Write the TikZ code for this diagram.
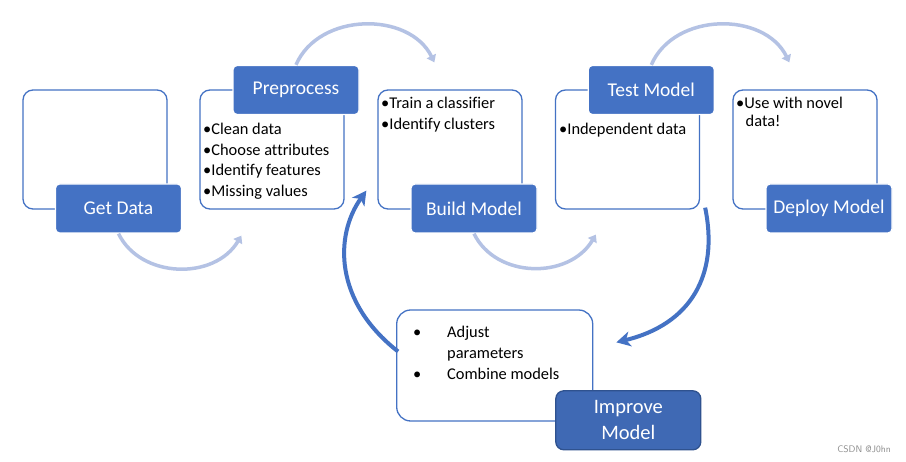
\documentclass[tikz,border=0pt]{standalone}
\usepackage{fontspec}
\setmainfont{Carlito}[Ligatures=NoCommon]
\usetikzlibrary{arrows.meta,calc}
\definecolor{sblue}{HTML}{4472C4}
\definecolor{dblue}{HTML}{2F528F}
\definecolor{lblue}{HTML}{B4C2E4}
\tikzset{
  wbox/.style={draw=sblue,line width=1.3pt,rounded corners=10pt,fill=white,inner sep=0pt},
  bbox/.style={draw=white,line width=1.3pt,rounded corners=4pt,fill=sblue,text=white,inner sep=0pt,
    font=\fontsize{19.5}{23}\selectfont,align=center},
  ibox/.style={draw=dblue,line width=1.3pt,rounded corners=8pt,fill=sblue!92!black,text=white,inner sep=0pt,
    font=\fontsize{20.5}{26}\selectfont,align=center},
  btxt/.style={anchor=base west,inner sep=0pt,font=\fontsize{16.4}{20}\selectfont},
  larc/.style={draw=lblue,line width=3.5pt,-{Triangle[length=7pt,width=10pt]}},
  darc/.style={draw=sblue,line width=4pt,-{Stealth[length=14pt,width=15pt,inset=4pt]}},
}
\begin{document}
\begin{tikzpicture}[x=1pt,y=-1pt]
\useasboundingbox[fill=white] (0,0) rectangle (906,462);
% white boxes
\node[wbox,minimum width=144pt,minimum height=119pt] (gdw) at (95,149.5) {};
\node[wbox,minimum width=144pt,minimum height=119pt] (ppw) at (272,149.5) {};
\node[wbox,minimum width=144pt,minimum height=119pt] (bmw) at (450,149.5) {};
\node[wbox,minimum width=144pt,minimum height=119pt] (tmw) at (627.5,149.5) {};
\node[wbox,minimum width=144pt,minimum height=119pt] (dmw) at (805,149.5) {};
\node[wbox,minimum width=196pt,minimum height=111pt,rounded corners=14pt] (imw) at (494.7,365.5) {};
% blue label boxes
\node[bbox,minimum width=126pt,minimum height=49pt] (gdb) at (118.5,208.5) {Get Data};
\node[bbox,minimum width=126pt,minimum height=49pt] (ppb) at (296,90) {Preprocess};
\node[bbox,minimum width=126pt,minimum height=49pt] (bmb) at (474,208.5) {Build Model};
\node[bbox,minimum width=126pt,minimum height=49pt] (tmb) at (651.3,90) {Test Model};
\node[bbox,minimum width=126pt,minimum height=49pt] (dmb) at (829,208.5) {Deploy Model};
\node[ibox,minimum width=145pt,minimum height=59pt] (imb) at (628.3,420.3) {Improve\\Model};
% bullet texts
\node[btxt] (p1) at (203,135) {•Clean data};
\node[btxt] (p2) at (203,155.5) {•Choose attributes};
\node[btxt] (p3) at (203,176) {•Identify features};
\node[btxt] (p4) at (203,196.5) {•Missing values};
\node[btxt] (b1) at (381,109) {•Train a classifier};
\node[btxt] (b2) at (381,130) {•Identify clusters};
\node[btxt] (t1) at (559,135) {•Independent data};
\node[btxt] (d1) at (736,109) {•Use with novel};
\node[btxt] (d2) at (745.5,127) {data!};
\node[btxt] (i0) at (413,338) {•};
\node[btxt] (i1) at (447,338) {Adjust};
\node[btxt] (i2) at (447,358.5) {parameters};
\node[btxt] (i3) at (413,380) {•};
\node[btxt] (i4) at (447,380) {Combine models};
% light arcs
\coordinate (e1) at ($(ppw.south west)+(42,26)$);
\coordinate (e2) at ($(bmw.north west)+(57,-27)$);
\coordinate (e3) at ($(tmw.south west)+(41,25)$);
\coordinate (e4) at ($(dmw.north west)+(57,-27)$);
\draw[larc] (gdb.south) .. controls +(22,45) and +(-27,45) .. (e1);
\draw[larc] (ppb.north) .. controls +(23,-53) and +(-25,-51) .. (e2);
\draw[larc] (bmb.south) .. controls +(22,45) and +(-27,45) .. (e3);
\draw[larc] (tmb.north) .. controls +(23,-53) and +(-25,-51) .. (e4);
% dark arcs
\coordinate (s5) at ($(tmw.south east)+(5,-2)$);
\coordinate (e5) at ($(imw.north east)+(23,33)$);
\coordinate (s6) at ($(imw.west)+(2,-14)$);
\coordinate (e6) at ($(bmw.south west)+(-11,-19)$);
\draw[darc] (s5) .. controls +(14,68) and +(74,-18) .. (e5);
\draw[darc] (s6) .. controls +(-64,-50) and +(-32,45) .. (e6);
% watermark
\node[anchor=base east,inner sep=0pt,text=black!45,font=\fontsize{9.5}{11}\sffamily] (wm) at (891,453) {CSDN @J0hn};
\end{tikzpicture}
\end{document}
